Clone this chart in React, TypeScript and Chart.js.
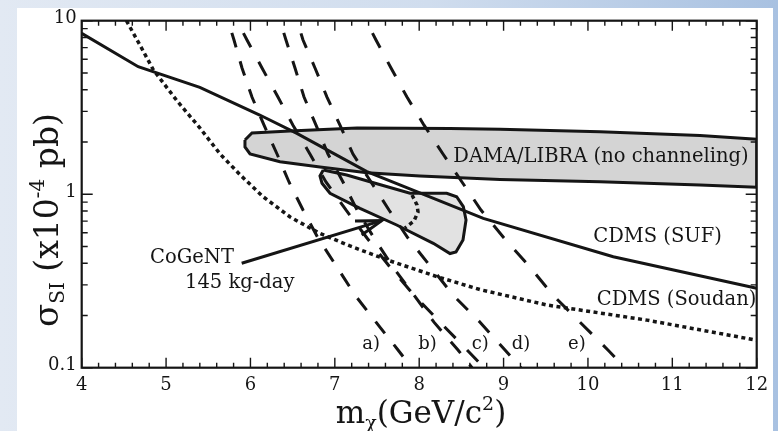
import React, { useEffect, useRef } from "react";
import { Chart, registerables } from "chart.js";

Chart.register(...registerables);

// ---------- axis ticks ----------
const xTickValues = [4, 5, 6, 7, 8, 9, 10, 11, 12];
const yTickValues = [0.1, 1, 10];

// ---------- CDMS (SUF) limit (solid) ----------
const sufMass = [4.0, 4.67, 5.4, 6.11, 6.55, 7.38, 8.76, 10.3, 12.0];
const sufSigma = [8.46, 5.43, 4.13, 2.86, 2.24, 1.35, 0.726, 0.436, 0.287];

// ---------- CDMS (Soudan) limit (dotted) ----------
const soudanMass = [4.53, 4.69, 4.85, 5.13, 5.4, 5.64, 5.88, 6.15, 6.47, 6.82, 7.18, 7.62, 8.21, 8.72, 9.51, 10.7, 12.0];
const soudanSigma = [10, 7.24, 5.2, 3.45, 2.41, 1.705, 1.29, 0.967, 0.739, 0.595, 0.503, 0.418, 0.335, 0.282, 0.23, 0.188, 0.144];

// ---------- dashed curves a) .. e) ----------
const dashSigma = [10, 7.74, 5.34, 3.63, 2.5, 1.705, 1.176, 0.811, 0.559, 0.38, 0.262, 0.183, 0.1265, 0.1];
const dashAMass = [5.734, 5.805, 5.9, 6.018, 6.161, 6.315, 6.457, 6.623, 6.801, 7.026, 7.239, 7.488, 7.749, 7.91];
const dashBMass = [6.35, 6.421, 6.528, 6.635, 6.777, 6.919, 7.097, 7.263, 7.465, 7.69, 7.938, 8.175, 8.46, 8.626];
const dashCMass = [5.84, 5.959, 6.137, 6.326, 6.504, 6.705, 6.895, 7.132, 7.381, 7.654, 7.938, 8.247, 8.567, 8.768];
const dashDMass = [6.552, 6.623, 6.765, 6.907, 7.061, 7.215, 7.429, 7.642, 7.867, 8.14, 8.401, 8.721, 9.017, 9.207];
const dashEMass = [7.37, 7.488, 7.666, 7.855, 8.057, 8.282, 8.507, 8.732, 9.005, 9.313, 9.585, 9.906, 10.237, 10.439];

// ---------- DAMA/LIBRA region ----------
const damaMass = [5.935, 6.018, 6.469, 7.263, 8.365, 8.958, 10.143, 11.328, 12.0, 12.0, 11.328, 10.143, 8.958, 8.009, 7.381, 6.824, 6.35, 5.995, 5.935, 5.935];
const damaSigma = [2.053, 2.253, 2.313, 2.408, 2.391, 2.366, 2.292, 2.179, 2.072, 1.096, 1.13, 1.18, 1.215, 1.273, 1.33, 1.435, 1.539, 1.705, 1.871, 2.053];

// ---------- CoGeNT region ----------
const cogentMass = [6.863, 7.141, 7.417, 7.891, 8.326, 8.444, 8.523, 8.555, 8.519, 8.436, 8.365, 8.167, 7.733, 7.298, 6.943, 6.848, 6.824, 6.863];
const cogentSigma = [1.379, 1.29, 1.18, 1.012, 1.012, 0.967, 0.847, 0.71, 0.545, 0.464, 0.455, 0.521, 0.6645, 0.829, 1.012, 1.156, 1.273, 1.379];
const cogentInnerMass = [7.915, 7.974, 7.986, 7.938, 7.832];
const cogentInnerSigma = [0.989, 0.867, 0.79, 0.7, 0.639];

// ---------- arrow ----------
const arrowShaftMass = [5.896, 7.556];
const arrowShaftSigma = [0.4, 0.704];
const arrowHeadMass = [7.239, 7.556, 7.318];
const arrowHeadSigma = [0.7, 0.704, 0.582];

// ---------- text annotations (data coordinates, left anchored) ----------
const noteTexts = ["DAMA/LIBRA (no channeling)", "CDMS (SUF)", "CDMS (Soudan)", "CoGeNT", "145 kg-day", "a)", "b)", "c)", "d)", "e)"];
const noteMass = [8.404, 10.063, 10.104, 4.81, 5.224, 7.326, 7.989, 8.622, 9.096, 9.764];
const noteSigma = [1.645, 0.569, 0.2455, 0.427, 0.3077, 0.136, 0.136, 0.136, 0.136, 0.136];
const noteSizes = [19.5, 19.5, 19.5, 19.5, 19.5, 18, 18, 18, 18, 18];

const FONT = '"DejaVu Serif", "Liberation Serif", serif';
const INK = "#151515";

const pts = (xs: number[], ys: number[]) => xs.map((x, i) => ({ x, y: ys[i] }));

type Piece = { t: string; size: number; dy: number };

function drawPieces(ctx: CanvasRenderingContext2D, pieces: Piece[], cx: number, cy: number) {
  let total = 0;
  const widths: number[] = [];
  for (const p of pieces) {
    ctx.font = `${p.size}px ${FONT}`;
    const w = ctx.measureText(p.t).width;
    widths.push(w);
    total += w;
  }
  let x = cx - total / 2;
  pieces.forEach((p, i) => {
    ctx.font = `${p.size}px ${FONT}`;
    ctx.fillText(p.t, x, cy + p.dy);
    x += widths[i];
  });
}

const paperPlugin = {
  id: "paperFrame",
  beforeDraw(chart: any) {
    const { ctx, width, height } = chart;
    ctx.save();
    const g = ctx.createLinearGradient(0, 0, width, 0);
    g.addColorStop(0, "#e2e9f3");
    g.addColorStop(0.55, "#d0ddee");
    g.addColorStop(1, "#a8c1e1");
    ctx.fillStyle = g;
    ctx.fillRect(0, 0, width, height);
    ctx.fillStyle = "#ffffff";
    ctx.fillRect(17, 8, 756, height - 8);
    ctx.restore();
  },
  afterDatasetsDraw(chart: any) {
    const { ctx, chartArea: a, scales } = chart;
    const xs = scales.x;
    const ys = scales.y;
    ctx.save();
    ctx.strokeStyle = INK;
    ctx.fillStyle = INK;

    // tick marks pointing inwards on all four sides
    ctx.lineWidth = 1.4;
    ctx.beginPath();
    for (let k = 0; k <= 40; k++) {
      const v = xTickValues[0] + k * 0.2;
      const px = xs.getPixelForValue(v);
      const len = k % 5 === 0 ? 10 : 5;
      ctx.moveTo(px, a.bottom);
      ctx.lineTo(px, a.bottom - len);
      ctx.moveTo(px, a.top);
      ctx.lineTo(px, a.top + len);
    }
    for (const dec of [0.1, 1]) {
      for (let m = 1; m <= 9; m++) {
        const py = ys.getPixelForValue(m * dec);
        const len = m === 1 ? 11 : 6;
        ctx.moveTo(a.left, py);
        ctx.lineTo(a.left + len, py);
        ctx.moveTo(a.right, py);
        ctx.lineTo(a.right - len, py);
      }
    }
    const p10 = ys.getPixelForValue(10);
    ctx.moveTo(a.left, p10);
    ctx.lineTo(a.left + 11, p10);
    ctx.moveTo(a.right, p10);
    ctx.lineTo(a.right - 11, p10);
    ctx.stroke();

    // frame
    ctx.lineWidth = 2.2;
    ctx.strokeRect(a.left, a.top, a.right - a.left, a.bottom - a.top);

    // annotations
    ctx.textAlign = "left";
    ctx.textBaseline = "middle";
    noteTexts.forEach((t, i) => {
      ctx.font = `${noteSizes[i]}px ${FONT}`;
      ctx.fillText(t, xs.getPixelForValue(noteMass[i]), ys.getPixelForValue(noteSigma[i]));
    });

    // axis titles
    ctx.textBaseline = "alphabetic";
    drawPieces(
      ctx,
      [
        { t: "m", size: 31, dy: 0 },
        { t: "χ", size: 19, dy: 6 },
        { t: "(GeV/c", size: 31, dy: 0 },
        { t: "2", size: 19, dy: -13 },
        { t: ")", size: 31, dy: 0 },
      ],
      421,
      423
    );
    ctx.save();
    ctx.translate(58, 220);
    ctx.rotate(-Math.PI / 2);
    drawPieces(
      ctx,
      [
        { t: "σ", size: 34, dy: 0 },
        { t: "SI", size: 20, dy: 6 },
        { t: " (x10", size: 33, dy: 0 },
        { t: "-4", size: 20, dy: -14 },
        { t: " pb)", size: 33, dy: 0 },
      ],
      0,
      0
    );
    ctx.restore();
    ctx.restore();
  },
};

export default function App() {
  const ref = useRef<HTMLCanvasElement | null>(null);

  useEffect(() => {
    if (!ref.current) return;
    const solid = { borderColor: INK, pointRadius: 0, fill: false, tension: 0 };
    const dashed = (xs: number[], dash: number[], off: number) => ({
      ...solid,
      data: pts(xs, dashSigma),
      borderWidth: 3,
      borderDash: dash,
      borderDashOffset: off,
      borderCapStyle: "butt",
    });
    const chart = new Chart(ref.current, {
      type: "line",
      data: {
        datasets: [
          { ...solid, label: "CDMS (SUF)", data: pts(sufMass, sufSigma), borderWidth: 3 },
          { ...solid, label: "CDMS (Soudan)", data: pts(soudanMass, soudanSigma), borderWidth: 3.5, borderDash: [4, 3.5] },
          { ...dashed(dashAMass, [15, 14.5], 16.7), label: "a)" },
          { ...dashed(dashBMass, [15, 14.5], 16.7), label: "b)" },
          { ...dashed(dashCMass, [16, 16.5], 18.5), label: "c)" },
          { ...dashed(dashDMass, [15.5, 15.5], 17.7), label: "d)" },
          { ...dashed(dashEMass, [16.5, 16], 18.5), label: "e)" },
          { ...solid, label: "arrow", data: pts(arrowShaftMass, arrowShaftSigma), borderWidth: 3 },
          { ...solid, label: "arrowhead", data: pts(arrowHeadMass, arrowHeadSigma), borderWidth: 3 },
          { ...solid, label: "CoGeNT inner", data: pts(cogentInnerMass, cogentInnerSigma), borderWidth: 3.5, borderDash: [4, 3.5] },
          {
            ...solid,
            label: "CoGeNT",
            data: pts(cogentMass, cogentSigma),
            borderWidth: 3,
            fill: "shape",
            backgroundColor: "#e2e2e2",
            order: 5,
          },
          {
            ...solid,
            label: "DAMA/LIBRA",
            data: pts(damaMass, damaSigma),
            borderWidth: 3,
            fill: "shape",
            backgroundColor: "#d4d4d4",
            order: 10,
          },
        ] as any,
      },
      options: {
        animation: false,
        responsive: false,
        devicePixelRatio: 1,
        events: [],
        layout: { padding: { top: 20.7, right: 21.3, left: 0, bottom: 0 } },
        plugins: { legend: { display: false }, tooltip: { enabled: false } },
        scales: {
          x: {
            type: "linear",
            min: 4,
            max: 12,
            grid: { display: false, drawTicks: false },
            border: { display: false },
            afterBuildTicks: (s: any) => {
              s.ticks = xTickValues.map((v) => ({ value: v }));
            },
            afterFit: (s: any) => {
              s.height = 63.3;
            },
            ticks: {
              color: INK,
              padding: 7,
              maxRotation: 0,
              font: { family: FONT, size: 18 },
              callback: (v: any) => String(v),
            },
          },
          y: {
            type: "logarithmic",
            min: 0.1,
            max: 10,
            grid: { display: false, drawTicks: false },
            border: { display: false },
            afterBuildTicks: (s: any) => {
              s.ticks = yTickValues.map((v) => ({ value: v }));
            },
            afterFit: (s: any) => {
              s.width = 81.7;
            },
            ticks: {
              color: INK,
              padding: 5,
              labelOffset: -2,
              font: { family: FONT, size: 18 },
              callback: (v: any) => String(v),
            },
          },
        },
      } as any,
      plugins: [paperPlugin],
    });
    return () => chart.destroy();
  }, []);

  return (
    <div style={{ position: "fixed", left: 0, top: 0, width: 778, height: 431 }}>
      <canvas ref={ref} width={778} height={431} style={{ display: "block", width: 778, height: 431 }} />
    </div>
  );
}
